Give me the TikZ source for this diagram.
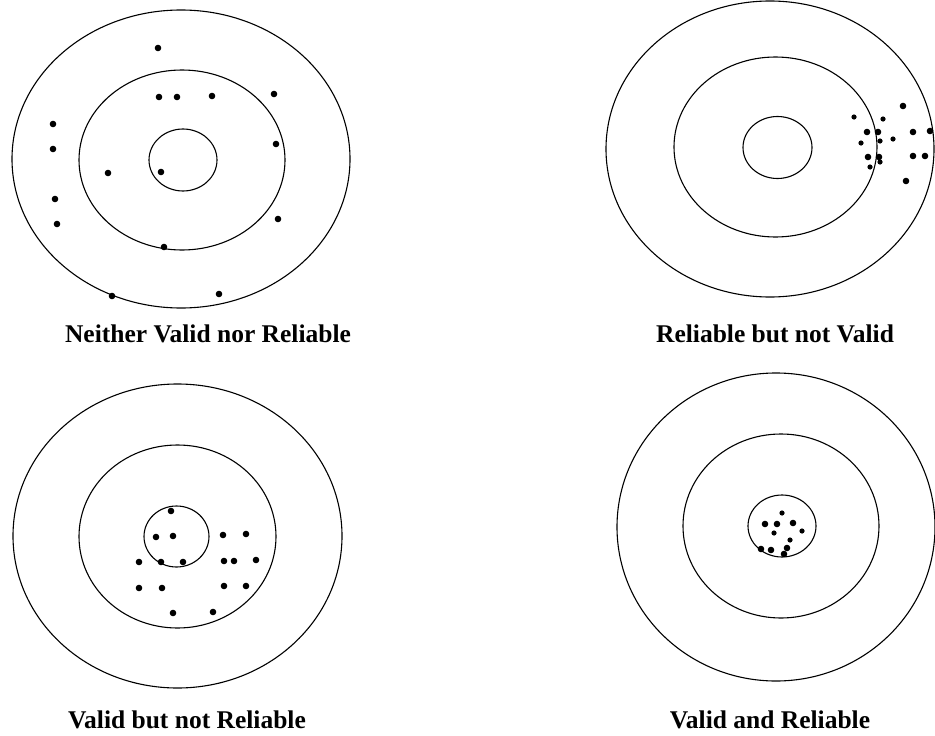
\documentclass[tikz,border=0pt]{standalone}
\usepackage{fontspec}
\setmainfont{Liberation Serif}
\usepackage{tikz}
\usetikzlibrary{positioning}

\begin{document}
\begin{tikzpicture}[x=1pt, y=-1pt,
            ring/.style={draw, line width=1.1pt},
            hit/.style={fill=black},
            caption/.style={anchor=base, inner sep=0pt, font=\fontsize{25.5}{30}\selectfont\bfseries}]
            \useasboundingbox (0,0) rectangle (935,736);

            % Neither valid nor reliable
            \draw[ring] (181,159) ellipse [x radius=169pt, y radius=149pt];
            \draw[ring] (182,160) ellipse [x radius=103pt, y radius=90pt];
            \draw[ring] (183,160) ellipse [x radius=34pt, y radius=31pt];
            \foreach \p in {(158,48),(159,97),(177,97),(212,96),(274,94),(53,124),(53,149),(276,144),
                    (108,173),(161,172),(55,199),(57,224),(278,219),(164,247),(112,296),(219,294)}
                \fill[hit] \p circle [radius=3.3pt];
            \node[caption] (cap1) at (208,342) {Neither Valid nor Reliable};

            % Reliable but not valid
            \draw[ring] (770,149) ellipse [x radius=164pt, y radius=148pt];
            \draw[ring] (775.5,147) ellipse [x radius=101.5pt, y radius=90pt];
            \draw[ring] (777.5,147.5) ellipse [x radius=34.5pt, y radius=31pt];
            \foreach \p in {(903,106),(867,132),(878,132),(913,132),(930,131),(868,157),(879,157),
                    (913,156),(925,156),(906,181)}
                \fill[hit] \p circle [radius=3.3pt];
            \foreach \p in {(854,117),(883,119),(861,143),(880,141),(893,139),(870,167),(880,162)}
                \fill[hit] \p circle [radius=2.6pt];
            \node[caption] (cap2) at (775,342) {Reliable but not Valid};

            % Valid but not reliable
            \draw[ring] (177.5,536) ellipse [x radius=164.5pt, y radius=152pt];
            \draw[ring] (177.5,536.5) ellipse [x radius=98.5pt, y radius=91.5pt];
            \draw[ring] (176.5,536.5) ellipse [x radius=32.5pt, y radius=30.5pt];
            \foreach \p in {(171,511),(156,537),(173,536),(223,535),(246,534),(139,562),(161,562),
                    (183,562),(224,561),(234,561),(256,560),(139,588),(162,588),(224,586),(246,586),
                    (173,613),(213,612)}
                \fill[hit] \p circle [radius=3.3pt];
            \node[caption] (cap3) at (187,728) {Valid but not Reliable};

            % Valid and reliable
            \draw[ring] (776,527) ellipse [x radius=159pt, y radius=154pt];
            \draw[ring] (781,526) ellipse [x radius=98pt, y radius=92pt];
            \draw[ring] (782,526) ellipse [x radius=34pt, y radius=31pt];
            \foreach \p in {(765,524),(777,524),(793,523),(761,549),(771,550),(787,548),(784,554)}
                \fill[hit] \p circle [radius=3.3pt];
            \foreach \p in {(782,513),(802,531),(774,533),(790,540)}
                \fill[hit] \p circle [radius=2.6pt];
            \node[caption] (cap4) at (770,728) {Valid and Reliable};
        \end{tikzpicture}
\end{document}
